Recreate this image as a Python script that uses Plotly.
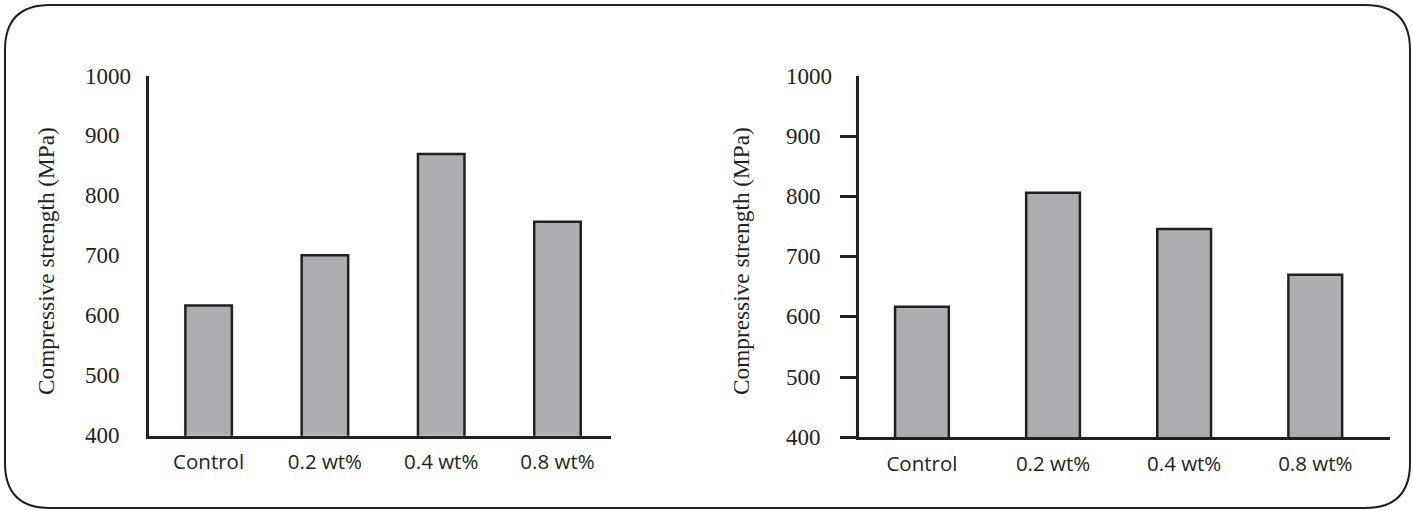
import plotly.graph_objects as go

# ---- data ----
categories = ["Control", "0.2 wt%", "0.4 wt%", "0.8 wt%"]
left_values = [617, 701, 870, 757]
right_values = [617, 806, 746, 670]
y_tick_values = [400, 500, 600, 700, 800, 900, 1000]
y_tick_labels = ["400", "500", "600", "700", "800", "900", "1000"]
y_title = "Compressive strength (MPa)"

W, H = 1413, 511
INK = "#231F20"
BAR = "#ADAEB1"
SERIF = "Liberation Serif, Times New Roman, serif"
SANS = "Open Sans, Liberation Sans, sans-serif"


def px(x):
    return x / W


def py(y):
    return 1 - y / H


fig = go.Figure()
bar_style = dict(color=BAR, line=dict(color=INK, width=2.5))
fig.add_trace(go.Bar(x=categories, y=left_values, xaxis="x", yaxis="y",
                     width=0.4, marker=bar_style, hoverinfo="x+y"))
fig.add_trace(go.Bar(x=categories, y=right_values, xaxis="x2", yaxis="y2",
                     width=0.41, marker=bar_style, hoverinfo="x+y"))

common_x = dict(type="category", showline=True, linecolor=INK, linewidth=2.5,
                showgrid=False, zeroline=False, ticks="", ticklabelstandoff=6,
                tickfont=dict(family=SANS, size=20.5, color=INK))
common_y = dict(range=[400, 1000], showline=True, linecolor=INK, linewidth=2.5,
                showgrid=False, zeroline=False, showticklabels=False)

fig.update_layout(
    width=W, height=H,
    margin=dict(l=0, r=0, t=0, b=0),
    paper_bgcolor="white", plot_bgcolor="white",
    showlegend=False,
    xaxis=dict(common_x, domain=[px(149.3), px(611)], range=[-0.51, 3.46], anchor="y"),
    yaxis=dict(common_y, domain=[py(435.7), py(76)], anchor="x", ticks=""),
    xaxis2=dict(common_x, domain=[px(859), px(1390)], range=[-0.48, 3.57], anchor="y2"),
    yaxis2=dict(common_y, domain=[py(437.3), py(76)], anchor="x2", ticks="outside",
                tickvals=y_tick_values[:-1], ticklen=16, tickwidth=2.5, tickcolor=INK),
)

annotations = []
for v, lab in zip(y_tick_values, y_tick_labels):
    annotations.append(dict(x=px(83), y=v, xref="paper", yref="y", text=lab,
                            xanchor="left", yanchor="middle", showarrow=False,
                            font=dict(family=SERIF, size=23, color=INK)))
    annotations.append(dict(x=px(784), y=v, xref="paper", yref="y2", text=lab,
                            xanchor="left", yanchor="middle", showarrow=False,
                            font=dict(family=SERIF, size=23, color=INK)))
for xc in (46, 741):
    annotations.append(dict(x=px(xc), y=py(261), xref="paper", yref="paper",
                            text=y_title, textangle=-90, showarrow=False,
                            xanchor="center", yanchor="middle",
                            font=dict(family=SERIF, size=23.3, color=INK)))
fig.update_layout(annotations=annotations)

# rounded frame around the figure
x0, y0, x1, y1, r = 5, 5, 1410, 508, 45
pts = [
    ("M", [(x0 + r, y0)]), ("L", [(x1 - r, y0)]), ("Q", [(x1, y0), (x1, y0 + r)]),
    ("L", [(x1, y1 - r)]), ("Q", [(x1, y1), (x1 - r, y1)]),
    ("L", [(x0 + r, y1)]), ("Q", [(x0, y1), (x0, y1 - r)]),
    ("L", [(x0, y0 + r)]), ("Q", [(x0, y0), (x0 + r, y0)]),
]
path = ""
for cmd, ps in pts:
    path += cmd + " ".join(f"{px(a):.5f},{py(b):.5f}" for a, b in ps) + " "
path += "Z"
fig.add_shape(type="path", path=path, xref="paper", yref="paper",
              line=dict(color=INK, width=2), fillcolor="rgba(0,0,0,0)", layer="above")

fig.write_html("out.html")
